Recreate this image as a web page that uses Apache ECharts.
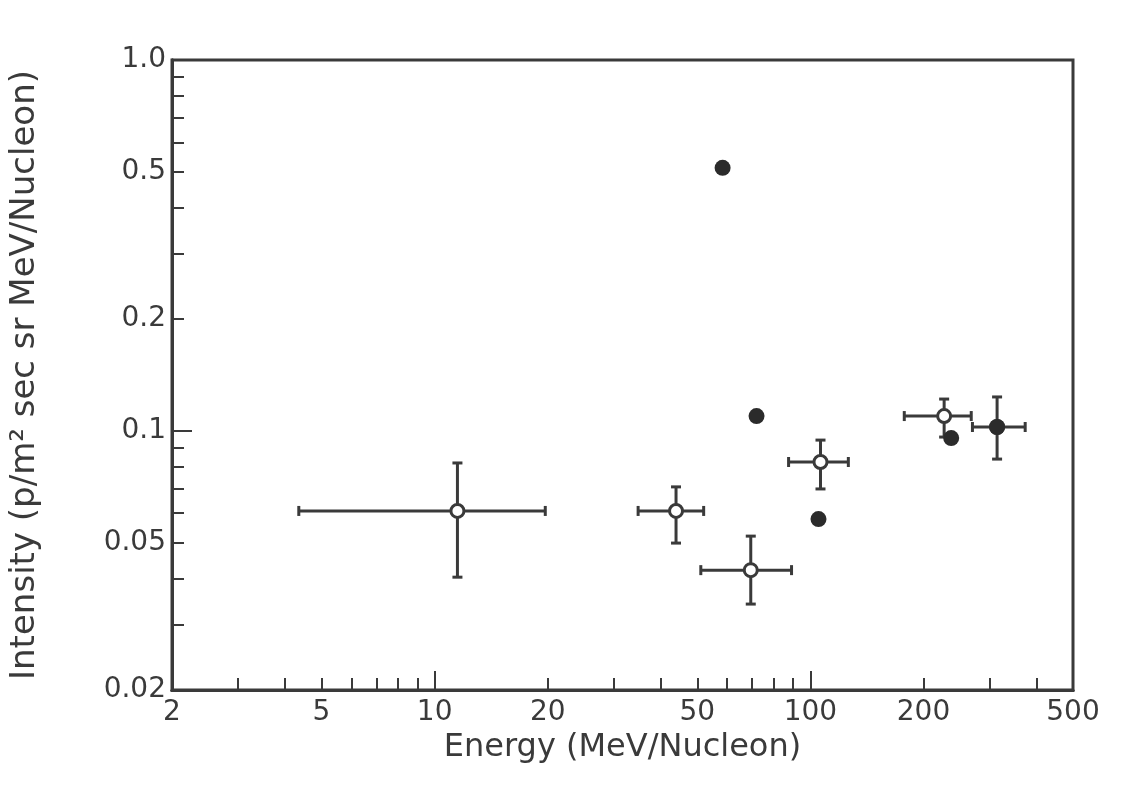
<!DOCTYPE html>
<html><head><meta charset="utf-8">
<script src="https://cdn.jsdelivr.net/npm/echarts@6/dist/echarts.min.js"></script>
<style>html,body{margin:0;padding:0;background:#fff}#c{width:1144px;height:790px}</style>
</head><body><div id="c"></div>
<script>
// Open circles with error bars: [energy, intensity, eLow, eHigh, iLow, iHigh]
const openPoints = [
  [11.5, 0.0608, 4.35, 19.7, 0.0403, 0.0819],
  [43.9, 0.0608, 34.8, 52.0, 0.0498, 0.0706],
  [69.4, 0.0421, 51.1, 89.1, 0.0341, 0.0520],
  [106.4, 0.0824, 87.5, 126.2, 0.0697, 0.0944],
  [227, 0.1096, 177.8, 268, 0.0962, 0.1218],
  [314, 0.1024, 270, 373, 0.0839, 0.1234]
];
// Filled dots: [energy, intensity]
const filledPoints = [
  [58.4, 0.512],
  [71.9, 0.1096],
  [105.1, 0.0578],
  [237, 0.0956],
  [314, 0.1024]
];
const xLabels = [2, 5, 10, 20, 50, 100, 200, 500];
const xMinorTicks = [3, 4, 5, 6, 7, 8, 9, 20, 30, 40, 50, 60, 70, 80, 90, 200, 300, 400];
const xMajorTicks = [10, 100];
const yLabels = [0.02, 0.05, 0.1, 0.2, 0.5, 1.0];
const yMinorTicks = [0.03, 0.04, 0.05, 0.06, 0.07, 0.08, 0.09, 0.2, 0.3, 0.4, 0.5, 0.6, 0.7, 0.8, 0.9];
const yMajorTicks = [0.1];
const xTitle = 'Energy (MeV/Nucleon)';
const yTitle = 'Intensity (p/m\u00B2 sec sr MeV/Nucleon)';

const ink = '#3a3a3a';
const font = 'DejaVu Sans';
const chart = echarts.init(document.getElementById('c'));

function xAxisDef(ticks, len, showLabel, showName) {
  return {
    type: 'log', logBase: 10, min: 2, max: 500, position: 'bottom',
    name: showName ? xTitle : '', nameLocation: 'middle', nameGap: 40,
    nameTextStyle: {fontFamily: font, fontSize: 32, color: ink},
    axisLine: {show: true, lineStyle: {color: ink, width: 3}},
    axisTick: {show: true, inside: true, length: len, customValues: ticks, lineStyle: {color: ink, width: 2}},
    axisLabel: {show: showLabel, customValues: xLabels, margin: 9, fontFamily: font, fontSize: 28, color: ink,
      formatter: v => String(Math.round(v))},
    splitLine: {show: false}, minorTick: {show: false}
  };
}
function yAxisDef(ticks, len, showLabel, showName) {
  return {
    type: 'log', logBase: 10, min: 0.02, max: 1.0, position: 'left',
    name: showName ? yTitle : '', nameLocation: 'middle', nameGap: 130,
    nameTextStyle: {fontFamily: font, fontSize: 34, color: ink},
    axisLine: {show: true, lineStyle: {color: ink, width: 3}},
    axisTick: {show: true, inside: true, length: len, customValues: ticks, lineStyle: {color: ink, width: 2}},
    axisLabel: {show: showLabel, customValues: yLabels, margin: 6, fontFamily: font, fontSize: 28, color: ink,
      formatter: v => (Math.abs(v - 1) < 1e-9 ? '1.0' : String(+v.toPrecision(3)))},
    splitLine: {show: false}, minorTick: {show: false}
  };
}

const capX = 5, capY = 5;
chart.setOption({
  animation: false,
  backgroundColor: '#fff',
  grid: {left: 170, right: 71, top: 60, bottom: 100, show: true, borderColor: ink, borderWidth: 3, backgroundColor: 'transparent'},
  xAxis: [xAxisDef(xMinorTicks, 12, true, true), xAxisDef(xMajorTicks, 19, false, false)],
  yAxis: [yAxisDef(yMinorTicks, 12, true, true), yAxisDef(yMajorTicks, 20, false, false)],
  series: [
    {
      type: 'custom', xAxisIndex: 0, yAxisIndex: 0, z: 3,
      data: openPoints,
      renderItem: function (params, api) {
        const c = api.coord([api.value(0), api.value(1)]);
        const xl = api.coord([api.value(2), api.value(1)]);
        const xh = api.coord([api.value(3), api.value(1)]);
        const yl = api.coord([api.value(0), api.value(4)]);
        const yh = api.coord([api.value(0), api.value(5)]);
        const st = {stroke: ink, lineWidth: 3};
        return {type: 'group', children: [
          {type: 'line', shape: {x1: xl[0], y1: c[1], x2: xh[0], y2: c[1]}, style: st},
          {type: 'line', shape: {x1: c[0], y1: yl[1], x2: c[0], y2: yh[1]}, style: st},
          {type: 'line', shape: {x1: xl[0], y1: c[1] - capY, x2: xl[0], y2: c[1] + capY}, style: st},
          {type: 'line', shape: {x1: xh[0], y1: c[1] - capY, x2: xh[0], y2: c[1] + capY}, style: st},
          {type: 'line', shape: {x1: c[0] - capX, y1: yl[1], x2: c[0] + capX, y2: yl[1]}, style: st},
          {type: 'line', shape: {x1: c[0] - capX, y1: yh[1], x2: c[0] + capX, y2: yh[1]}, style: st},
          {type: 'circle', shape: {cx: c[0], cy: c[1], r: 6.5}, style: {fill: '#fff', stroke: ink, lineWidth: 3}}
        ]};
      }
    },
    {
      type: 'scatter', xAxisIndex: 0, yAxisIndex: 0, z: 4,
      data: filledPoints, symbol: 'circle', symbolSize: 16,
      itemStyle: {color: '#2b2b2b', opacity: 1}
    }
  ]
});
</script></body></html>
